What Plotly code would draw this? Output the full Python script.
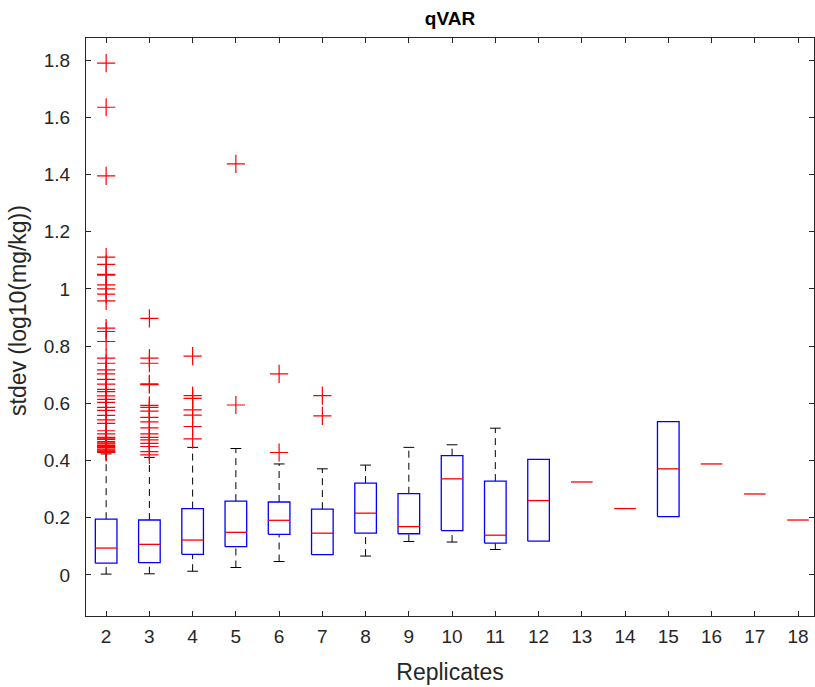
import plotly.graph_objects as go

# ---- data ----
replicates = [2, 3, 4, 5, 6, 7, 8, 9, 10, 11, 12, 13, 14, 15, 16, 17, 18]
q1 = [0.041, 0.043, 0.072, 0.099, 0.142, 0.071, 0.146, 0.144, 0.155, 0.111, 0.118,
      0.325, 0.232, 0.204, 0.388, 0.283, 0.192]
median = [0.094, 0.107, 0.122, 0.149, 0.191, 0.146, 0.216, 0.169, 0.336, 0.139, 0.260,
          0.325, 0.232, 0.371, 0.388, 0.283, 0.192]
q3 = [0.195, 0.192, 0.232, 0.258, 0.255, 0.230, 0.321, 0.284, 0.417, 0.328, 0.404,
      0.325, 0.232, 0.536, 0.388, 0.283, 0.192]
whisker_low = [0.003, 0.004, 0.013, 0.026, 0.047, 0.071, 0.066, 0.117, 0.115, 0.089, 0.118,
               0.325, 0.232, 0.204, 0.388, 0.283, 0.192]
whisker_high = [0.423, 0.411, 0.446, 0.442, 0.388, 0.371, 0.384, 0.446, 0.455, 0.513, 0.404,
                0.325, 0.232, 0.536, 0.388, 0.283, 0.192]
outliers = [
    [1.789, 1.635, 1.395, 1.111, 1.086, 1.051, 1.048, 1.014, 1.0, 0.982, 0.958, 0.863,
     0.851, 0.816, 0.758, 0.740, 0.717, 0.703, 0.684, 0.667, 0.649, 0.641, 0.626, 0.614,
     0.603, 0.586, 0.575, 0.558, 0.542, 0.530, 0.504, 0.493, 0.481, 0.478, 0.474, 0.466,
     0.462, 0.458, 0.453, 0.449, 0.445, 0.440, 0.436, 0.433, 0.431, 0.428],
    [0.897, 0.758, 0.740, 0.668, 0.665, 0.593, 0.586, 0.573, 0.551, 0.535, 0.514, 0.493,
     0.481, 0.472, 0.460, 0.449, 0.431, 0.420],
    [0.765, 0.627, 0.617, 0.577, 0.559, 0.519, 0.476],
    [1.437, 0.594],
    [0.703, 0.428],
    [0.627, 0.556],
    [], [], [], [], [], [], [], [], [], [], [],
]
y_ticks = [0, 0.2, 0.4, 0.6, 0.8, 1.0, 1.2, 1.4, 1.6, 1.8]
title_text = "qVAR"
x_title = "Replicates"
y_title = "stdev (log10(mg/kg))"

# ---- style ----
BOX_HALF = 0.25
CAP_HALF = 0.125
BLUE = "#0000FF"
RED = "#FF0000"
AX = "#262626"
FONT = "Liberation Sans, Arial, sans-serif"

bx, by, mx, my, wx, wy, cx, cy, ox, oy = [], [], [], [], [], [], [], [], [], []
for i, g in enumerate(replicates):
    if q3[i] > q1[i]:
        bx += [g - BOX_HALF, g + BOX_HALF, g + BOX_HALF, g - BOX_HALF, g - BOX_HALF, None]
        by += [q1[i], q1[i], q3[i], q3[i], q1[i], None]
    mx += [g - BOX_HALF, g + BOX_HALF, None]
    my += [median[i], median[i], None]
    if whisker_high[i] > q3[i]:
        wx += [g, g, None]
        wy += [q3[i], whisker_high[i], None]
        cx += [g - CAP_HALF, g + CAP_HALF, None]
        cy += [whisker_high[i], whisker_high[i], None]
    if whisker_low[i] < q1[i]:
        wx += [g, g, None]
        wy += [whisker_low[i], q1[i], None]
        cx += [g - CAP_HALF, g + CAP_HALF, None]
        cy += [whisker_low[i], whisker_low[i], None]
    for v in outliers[i]:
        ox.append(g)
        oy.append(v)

fig = go.Figure()
fig.add_trace(go.Scatter(x=wx, y=wy, mode="lines",
                         line=dict(color="black", width=1, dash="7px,5px"),
                         hoverinfo="skip", showlegend=False))
fig.add_trace(go.Scatter(x=cx, y=cy, mode="lines",
                         line=dict(color="black", width=1),
                         hoverinfo="skip", showlegend=False))
fig.add_trace(go.Scatter(x=bx, y=by, mode="lines",
                         line=dict(color=BLUE, width=1.3),
                         hoverinfo="skip", showlegend=False))
fig.add_trace(go.Scatter(x=mx, y=my, mode="lines",
                         line=dict(color=RED, width=1.3),
                         hoverinfo="skip", showlegend=False))
fig.add_trace(go.Scatter(x=ox, y=oy, mode="markers",
                         marker=dict(symbol="cross-thin", size=13,
                                     line=dict(color=RED, width=1.2)),
                         showlegend=False))

fig.update_layout(
    width=815, height=687,
    margin=dict(l=86, r=1, t=38, b=71),
    paper_bgcolor="white", plot_bgcolor="white",
    font=dict(family=FONT, size=19, color=AX),
    title=dict(text="<b>" + title_text + "</b>", x=0.5, xref="paper",
               y=1 - 18 / 687, yanchor="middle",
               font=dict(size=19, color="black")),
    annotations=[dict(text=y_title, textangle=-90, xref="paper", yref="paper",
                      x=-86 / 728 + 18 / 728, y=0.5277, xanchor="center",
                      yanchor="middle", showarrow=False,
                      font=dict(size=23, color=AX))],
)
fig.update_xaxes(
    range=[1.534, 18.37], tickmode="array", tickvals=replicates,
    ticktext=[str(r) for r in replicates],
    ticks="inside", ticklen=5, tickcolor=AX, showline=True, linecolor=AX,
    linewidth=1, mirror="ticks", showgrid=False, zeroline=False,
    tickfont=dict(size=19), ticklabelstandoff=3,
    title=dict(text=x_title, font=dict(size=23), standoff=18),
)
fig.update_yaxes(
    range=[-0.1435, 1.877], tickmode="array", tickvals=y_ticks,
    ticktext=[("%g" % t) for t in y_ticks],
    ticks="inside", ticklen=5, tickcolor=AX, showline=True, linecolor=AX,
    linewidth=1, mirror="ticks", showgrid=False, zeroline=False,
    tickfont=dict(size=19), ticklabelstandoff=11,
)
fig.write_html("out.html")
